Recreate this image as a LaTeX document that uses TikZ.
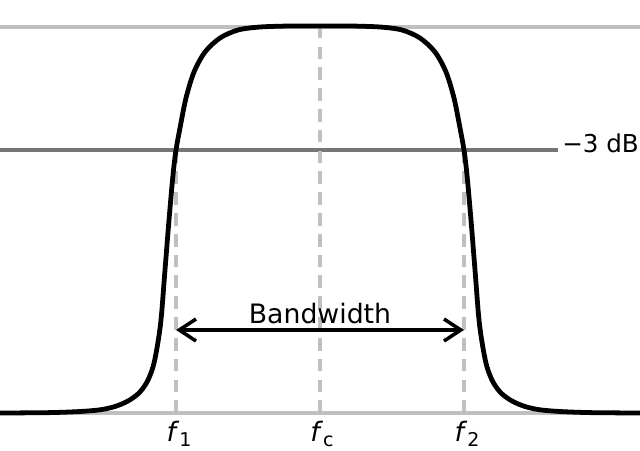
\documentclass[tikz,border=0pt]{standalone}
\usepackage{fontspec}
\setmainfont{DejaVu Sans}
\usepackage{tikz}
\usetikzlibrary{arrows.meta}
\definecolor{lightgrey}{HTML}{BFBFBF}
\definecolor{darkgrey}{HTML}{767676}
\newcommand{\fsub}[1]{\textit{f}\raisebox{-0.4ex}{\fontsize{13.5}{15}\selectfont #1}}
\tikzset{
	guide/.style={draw=lightgrey,line width=2.6pt},
	marker/.style={draw=lightgrey,line width=2.5pt,dash pattern=on 9pt off 5.8pt},
	label/.style={inner sep=0pt,font=\fontsize{19}{22}\selectfont}
}

\begin{document}
\begin{tikzpicture}[x=0.025cm,y=-0.025cm]
	\useasboundingbox (0,0) rectangle (640,450);
	
	\coordinate (topl)   at (0, 27);
	\coordinate (topr)   at (640, 27);
	\coordinate (basel)  at (0, 413);
	\coordinate (baser)  at (640, 413);
	\coordinate (halfl)  at (0, 150);
	\coordinate (halfr)  at (558, 150);
	\coordinate (f1b)    at (176, 413);
	\coordinate (f1t)    at (176, 150);
	\coordinate (fcb)    at (320, 413);
	\coordinate (fct)    at (320, 27);
	\coordinate (f2b)    at (464, 413);
	\coordinate (f2t)    at (464, 150);
	\coordinate (bwl)    at (176, 330);
	\coordinate (bwr)    at (464, 330);
	
	\path[guide] (topl) -- (topr);
	\path[guide] (basel) -- (baser);
	\path[draw=darkgrey,line width=2.5pt] (halfl) -- (halfr);
	\path[marker] (f1b) -- (f1t);
	\path[marker] (fcb) -- (fct);
	\path[marker] (f2b) -- (f2t);
	
	\draw[line width=3.4pt,line join=round] plot[smooth,tension=0.5] coordinates {
		(0,413) (50,412.6) (80,411.5) (100,409.8) (115,406.5) (128,401)
		(139,393) (147,382) (153,367) (157,348) (161,320) (165,270) (169,220)
		(173,175) (176,150) (180,128) (186,98) (194,72) (205,52) (220,38)
		(238,30) (260,27) (290,26) (320,26)
		(350,26) (380,27) (402,30) (420,38) (435,52) (446,72) (454,98)
		(460,128) (464,150) (467,175) (471,220) (475,270) (479,320) (483,348)
		(487,367) (493,382) (501,393) (512,401) (525,406.5) (540,409.8)
		(560,411.5) (590,412.6) (640,413)};
	
	\draw[line width=2.5pt,{Straight Barb[length=0.42cm,width=0.55cm]}-{Straight Barb[length=0.42cm,width=0.55cm]}]
		(bwl) -- (bwr);
	
	\node[label,anchor=base] (bw) at (320, 323) {Bandwidth};
	\node[label,anchor=base west,font=\fontsize{17.5}{20}\selectfont] (db) at (562, 152) {−3 dB};
	\node[label,anchor=base] (l1) at (179, 441) {\fsub{1}};
	\node[label,anchor=base] (lc) at (322, 441) {\fsub{c}};
	\node[label,anchor=base] (l2) at (467, 441) {\fsub{2}};
\end{tikzpicture}
\end{document}
